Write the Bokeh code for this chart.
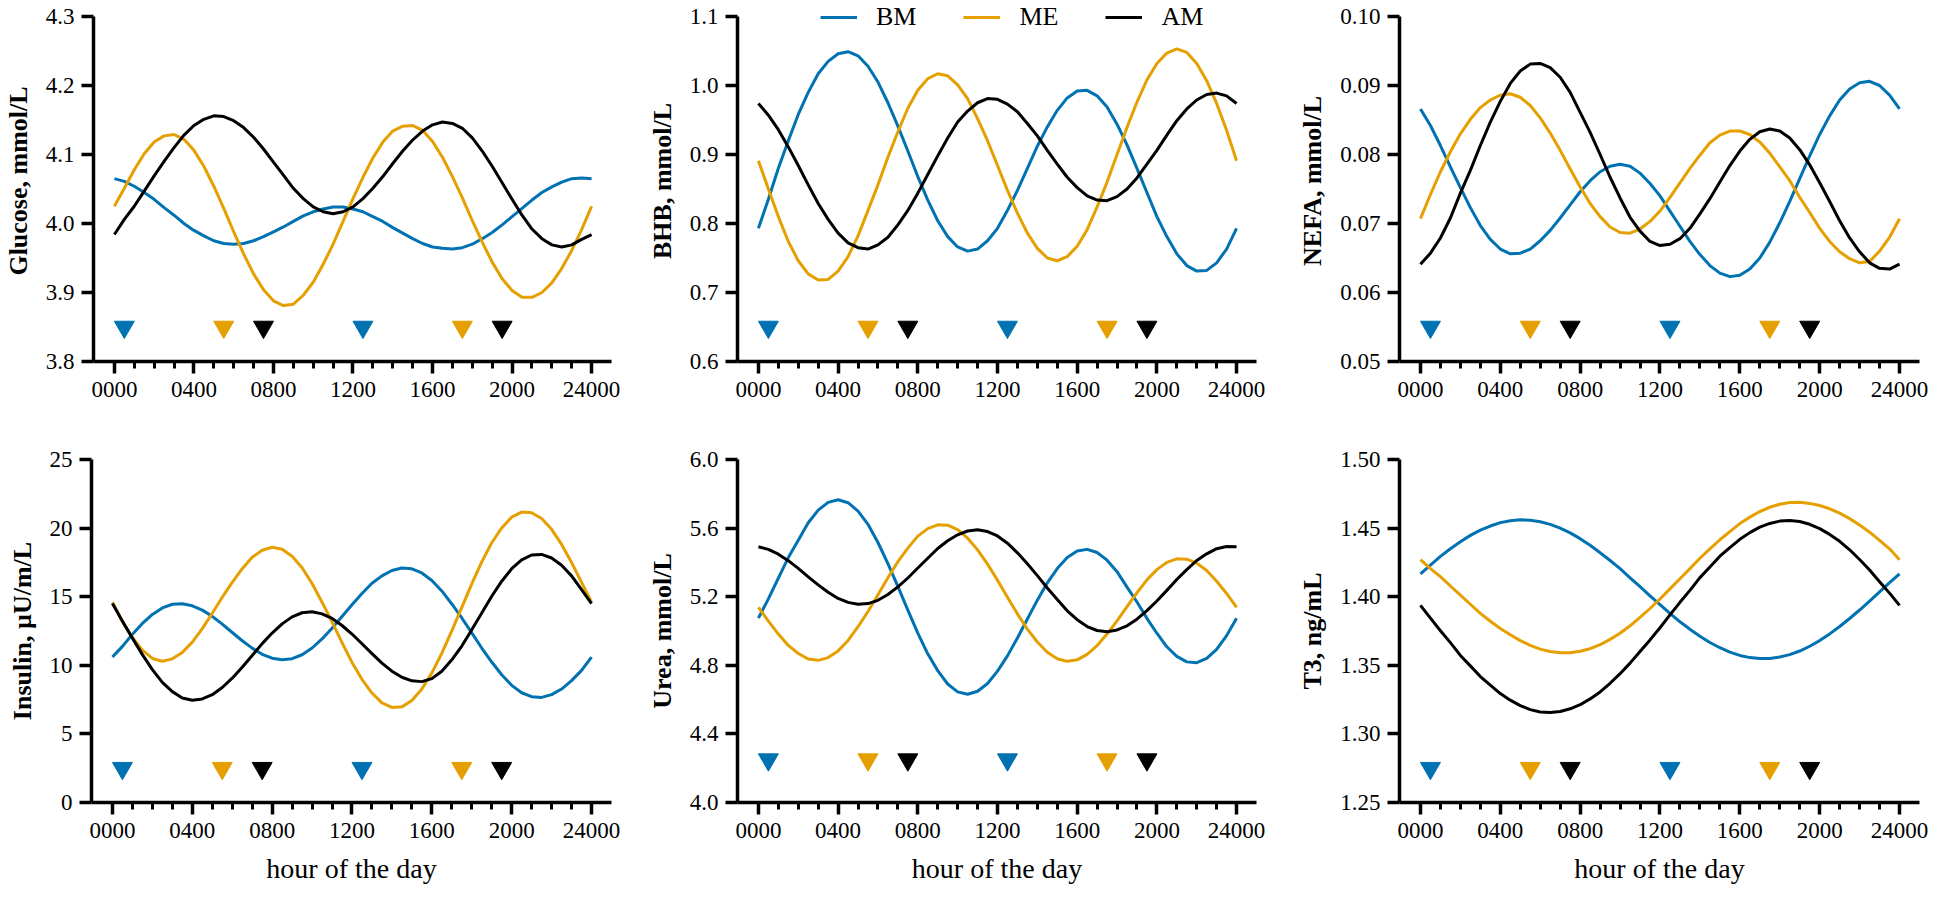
from bokeh.plotting import figure
from bokeh.models import FixedTicker, Legend, LegendItem, PrintfTickFormatter, Range1d
from bokeh.layouts import column, row
from bokeh.embed import file_html
from bokeh.resources import INLINE

# ---------------- data (every half hour) ----------------
hours = [0, 0.5, 1, 1.5, 2, 2.5, 3, 3.5, 4, 4.5, 5, 5.5, 6, 6.5, 7, 7.5, 8, 8.5, 9, 9.5, 10, 10.5,
         11, 11.5, 12, 12.5, 13, 13.5, 14, 14.5, 15, 15.5, 16, 16.5, 17, 17.5, 18, 18.5, 19, 19.5,
         20, 20.5, 21, 21.5, 22, 22.5, 23, 23.5, 24]
minor_hours = [0, 1, 2, 3, 4, 5, 6, 7, 8, 9, 10, 11, 12, 13, 14, 15, 16, 17, 18, 19, 20, 21, 22, 23, 24]
x_major = [0, 4, 8, 12, 16, 20, 24]
x_tick_labels = ["0000", "0400", "0800", "1200", "1600", "2000", "24000"]
groups = ["BM", "ME", "AM"]

marker_hours = [0.5, 5.5, 7.5, 12.5, 17.5, 19.5]
marker_groups = ["BM", "ME", "AM", "BM", "ME", "AM"]

glucose_bm = [4.065, 4.061, 4.054, 4.045, 4.035, 4.023, 4.012, 4.000, 3.990, 3.982, 3.975, 3.971, 3.970,
              3.971, 3.975, 3.981, 3.988, 3.995, 4.003, 4.011, 4.017, 4.021, 4.024, 4.024, 4.021, 4.017,
              4.010, 4.003, 3.994, 3.986, 3.978, 3.971, 3.966, 3.964, 3.963, 3.965, 3.970, 3.978, 3.987,
              3.998, 4.010, 4.022, 4.034, 4.045, 4.053, 4.060, 4.065, 4.066, 4.065]
glucose_me = [4.025, 4.051, 4.078, 4.101, 4.118, 4.127, 4.129, 4.122, 4.106, 4.083, 4.054, 4.022, 3.988,
              3.956, 3.927, 3.904, 3.888, 3.881, 3.883, 3.896, 3.915, 3.941, 3.970, 4.003, 4.036, 4.067,
              4.095, 4.118, 4.134, 4.141, 4.142, 4.135, 4.119, 4.096, 4.068, 4.037, 4.004, 3.973, 3.944,
              3.920, 3.903, 3.893, 3.893, 3.900, 3.914, 3.935, 3.961, 3.991, 4.025]
glucose_am = [3.984, 4.006, 4.025, 4.047, 4.069, 4.090, 4.110, 4.128, 4.142, 4.151, 4.156, 4.155, 4.149,
              4.139, 4.125, 4.108, 4.089, 4.070, 4.051, 4.036, 4.024, 4.017, 4.014, 4.017, 4.024, 4.036,
              4.051, 4.068, 4.087, 4.105, 4.121, 4.134, 4.143, 4.147, 4.145, 4.138, 4.124, 4.105, 4.083,
              4.059, 4.035, 4.012, 3.992, 3.978, 3.969, 3.966, 3.969, 3.977, 3.984]

bhb_bm = [0.793, 0.835, 0.880, 0.920, 0.958, 0.990, 1.017, 1.035, 1.046, 1.049, 1.043, 1.028, 1.005,
          0.975, 0.941, 0.905, 0.868, 0.834, 0.804, 0.781, 0.766, 0.760, 0.763, 0.775, 0.793, 0.819,
          0.848, 0.880, 0.912, 0.940, 0.964, 0.982, 0.992, 0.993, 0.985, 0.969, 0.944, 0.914, 0.880,
          0.845, 0.810, 0.781, 0.756, 0.739, 0.731, 0.732, 0.743, 0.763, 0.793]
bhb_me = [0.891, 0.850, 0.810, 0.774, 0.746, 0.727, 0.718, 0.719, 0.731, 0.752, 0.782, 0.819, 0.856,
          0.896, 0.933, 0.967, 0.993, 1.010, 1.017, 1.014, 1.001, 0.981, 0.952, 0.920, 0.884, 0.848,
          0.815, 0.786, 0.764, 0.750, 0.746, 0.752, 0.767, 0.791, 0.824, 0.860, 0.900, 0.939, 0.976,
          1.008, 1.032, 1.047, 1.053, 1.048, 1.032, 1.007, 0.974, 0.935, 0.891]
bhb_am = [0.974, 0.957, 0.936, 0.911, 0.884, 0.856, 0.829, 0.806, 0.786, 0.772, 0.765, 0.763, 0.769,
          0.780, 0.798, 0.819, 0.844, 0.871, 0.898, 0.924, 0.947, 0.963, 0.975, 0.981, 0.980, 0.973,
          0.962, 0.945, 0.927, 0.906, 0.886, 0.867, 0.852, 0.840, 0.834, 0.833, 0.839, 0.850, 0.866,
          0.886, 0.906, 0.928, 0.949, 0.966, 0.979, 0.987, 0.989, 0.985, 0.974]

nefa_bm = [0.0866, 0.0842, 0.0813, 0.0782, 0.0752, 0.0723, 0.0697, 0.0677, 0.0663, 0.0656, 0.0657, 0.0663,
           0.0675, 0.0690, 0.0708, 0.0727, 0.0746, 0.0762, 0.0775, 0.0783, 0.0786, 0.0783, 0.0773, 0.0758,
           0.0740, 0.0718, 0.0696, 0.0674, 0.0655, 0.0639, 0.0628, 0.0623, 0.0625, 0.0634, 0.0650, 0.0673,
           0.0701, 0.0732, 0.0765, 0.0798, 0.0829, 0.0856, 0.0879, 0.0895, 0.0904, 0.0906, 0.0900, 0.0886,
           0.0866]
nefa_me = [0.0707, 0.0742, 0.0775, 0.0804, 0.0830, 0.0851, 0.0868, 0.0879, 0.0886, 0.0888, 0.0883, 0.0871,
           0.0853, 0.0831, 0.0806, 0.0779, 0.0753, 0.0729, 0.0710, 0.0695, 0.0687, 0.0686, 0.0692, 0.0703,
           0.0718, 0.0738, 0.0759, 0.0780, 0.0799, 0.0817, 0.0828, 0.0834, 0.0834, 0.0829, 0.0818, 0.0802,
           0.0782, 0.0762, 0.0738, 0.0716, 0.0693, 0.0674, 0.0659, 0.0649, 0.0643, 0.0645, 0.0660, 0.0680,
           0.0707]
nefa_am = [0.0641, 0.0657, 0.0679, 0.0708, 0.0744, 0.0777, 0.0813, 0.0847, 0.0877, 0.0903, 0.0921, 0.0931,
           0.0932, 0.0926, 0.0912, 0.0890, 0.0861, 0.0832, 0.0800, 0.0767, 0.0737, 0.0709, 0.0689, 0.0674,
           0.0668, 0.0670, 0.0678, 0.0693, 0.0714, 0.0736, 0.0760, 0.0784, 0.0805, 0.0822, 0.0833, 0.0837,
           0.0834, 0.0824, 0.0807, 0.0785, 0.0759, 0.0732, 0.0704, 0.0679, 0.0659, 0.0643, 0.0635, 0.0634,
           0.0641]

insulin_bm = [10.6, 11.38, 12.26, 13.05, 13.71, 14.18, 14.45, 14.49, 14.34, 14.02, 13.57, 13.00, 12.39,
              11.79, 11.25, 10.80, 10.52, 10.40, 10.48, 10.77, 11.26, 11.92, 12.70, 13.55, 14.41, 15.23,
              15.98, 16.52, 16.91, 17.09, 17.03, 16.73, 16.18, 15.42, 14.47, 13.45, 12.36, 11.26, 10.24,
              9.31, 8.54, 8.00, 7.71, 7.66, 7.86, 8.27, 8.88, 9.63, 10.6]
insulin_me = [14.6, 13.20, 12.01, 11.10, 10.50, 10.30, 10.47, 10.94, 11.69, 12.67, 13.79, 14.96, 16.05,
              17.04, 17.87, 18.39, 18.60, 18.46, 17.95, 17.11, 15.96, 14.60, 13.16, 11.65, 10.21, 8.98,
              7.98, 7.26, 6.93, 6.97, 7.43, 8.27, 9.45, 10.88, 12.51, 14.22, 15.94, 17.54, 18.93,
              20.01, 20.80, 21.17, 21.12, 20.70, 19.91, 18.81, 17.49, 16.04, 14.6]
insulin_am = [14.5, 13.21, 11.98, 10.78, 9.69, 8.76, 8.08, 7.62, 7.45, 7.55, 7.86, 8.38, 9.06,
              9.86, 10.71, 11.58, 12.35, 13.02, 13.53, 13.83, 13.90, 13.75, 13.42, 12.90, 12.28, 11.57,
              10.85, 10.16, 9.57, 9.13, 8.87, 8.81, 9.03, 9.57, 10.40, 11.40, 12.59, 13.81, 15.03,
              16.13, 17.04, 17.69, 18.04, 18.08, 17.82, 17.29, 16.52, 15.52, 14.5]

urea_bm = [5.075, 5.187, 5.308, 5.428, 5.529, 5.631, 5.705, 5.750, 5.765, 5.748, 5.699, 5.622, 5.516,
           5.393, 5.260, 5.122, 4.988, 4.867, 4.769, 4.691, 4.645, 4.631, 4.649, 4.694, 4.766, 4.855,
           4.959, 5.070, 5.180, 5.281, 5.364, 5.429, 5.467, 5.476, 5.458, 5.413, 5.346, 5.256, 5.169,
           5.074, 4.987, 4.908, 4.852, 4.820, 4.815, 4.840, 4.893, 4.973, 5.075]
urea_me = [5.138, 5.058, 4.982, 4.916, 4.869, 4.837, 4.829, 4.845, 4.884, 4.945, 5.025, 5.114, 5.212,
           5.310, 5.404, 5.483, 5.553, 5.597, 5.619, 5.617, 5.591, 5.541, 5.473, 5.390, 5.296, 5.197,
           5.100, 5.011, 4.936, 4.876, 4.838, 4.823, 4.832, 4.864, 4.915, 4.982, 5.059, 5.142, 5.223,
           5.298, 5.358, 5.400, 5.421, 5.419, 5.396, 5.353, 5.290, 5.219, 5.138]
urea_am = [5.491, 5.476, 5.448, 5.410, 5.365, 5.316, 5.269, 5.226, 5.190, 5.167, 5.156, 5.160, 5.179,
           5.213, 5.257, 5.309, 5.367, 5.424, 5.481, 5.526, 5.561, 5.583, 5.590, 5.580, 5.554, 5.512,
           5.456, 5.392, 5.323, 5.251, 5.184, 5.118, 5.066, 5.026, 5.003, 4.996, 5.006, 5.030, 5.069,
           5.119, 5.175, 5.237, 5.300, 5.358, 5.411, 5.450, 5.480, 5.493, 5.491]

t3_bm = [1.4167, 1.4231, 1.4294, 1.4349, 1.4400, 1.4447, 1.4485, 1.4515, 1.4540, 1.4554, 1.4560, 1.4557,
         1.4546, 1.4527, 1.4500, 1.4465, 1.4423, 1.4375, 1.4320, 1.4264, 1.4204, 1.4138, 1.4073, 1.4006,
         1.3942, 1.3879, 1.3817, 1.3763, 1.3712, 1.3666, 1.3628, 1.3596, 1.3572, 1.3556, 1.3549, 1.3550,
         1.3560, 1.3578, 1.3604, 1.3639, 1.3680, 1.3729, 1.3783, 1.3841, 1.3903, 1.3968, 1.4035, 1.4102,
         1.4167]
t3_me = [1.4270, 1.4205, 1.4146, 1.4078, 1.4011, 1.3945, 1.3878, 1.3821, 1.3768, 1.3723, 1.3680, 1.3645,
         1.3618, 1.3601, 1.3592, 1.3592, 1.3602, 1.3621, 1.3650, 1.3689, 1.3734, 1.3788, 1.3849, 1.3914,
         1.3983, 1.4057, 1.4131, 1.4205, 1.4280, 1.4349, 1.4415, 1.4474, 1.4533, 1.4580, 1.4621, 1.4652,
         1.4674, 1.4686, 1.4688, 1.4680, 1.4665, 1.4641, 1.4609, 1.4569, 1.4522, 1.4470, 1.4410, 1.4349,
         1.4270]
t3_am = [1.3937, 1.3844, 1.3752, 1.3665, 1.3572, 1.3496, 1.3418, 1.3355, 1.3294, 1.3246, 1.3206, 1.3177,
         1.3160, 1.3156, 1.3163, 1.3183, 1.3213, 1.3255, 1.3306, 1.3369, 1.3439, 1.3516, 1.3601, 1.3685,
         1.3774, 1.3867, 1.3959, 1.4046, 1.4139, 1.4216, 1.4295, 1.4358, 1.4418, 1.4467, 1.4507, 1.4534,
         1.4551, 1.4555, 1.4548, 1.4528, 1.4496, 1.4454, 1.4404, 1.4342, 1.4271, 1.4194, 1.4109, 1.4026,
         1.3937]

glucose_ticks = [3.8, 3.9, 4.0, 4.1, 4.2, 4.3]
bhb_ticks = [0.6, 0.7, 0.8, 0.9, 1.0, 1.1]
nefa_ticks = [0.05, 0.06, 0.07, 0.08, 0.09, 0.10]
insulin_ticks = [0, 5, 10, 15, 20, 25]
urea_ticks = [4.0, 4.4, 4.8, 5.2, 5.6, 6.0]
t3_ticks = [1.25, 1.30, 1.35, 1.40, 1.45, 1.50]

# ---------------- styling ----------------
COLORS = {"BM": "#0072B2", "ME": "#E69F00", "AM": "#000000"}
FONT = "Liberation Serif"

panels = [
    dict(label="Glucose, mmol/L", series=[glucose_bm, glucose_me, glucose_am], ticks=glucose_ticks, fmt="%.1f", my=3.85),
    dict(label="BHB, mmol/L", series=[bhb_bm, bhb_me, bhb_am], ticks=bhb_ticks, fmt="%.1f", my=0.65),
    dict(label="NEFA, mmol/L", series=[nefa_bm, nefa_me, nefa_am], ticks=nefa_ticks, fmt="%.2f", my=0.055),
    dict(label="Insulin, µU/m/L", series=[insulin_bm, insulin_me, insulin_am], ticks=insulin_ticks, fmt="%d", my=2.5),
    dict(label="Urea, mmol/L", series=[urea_bm, urea_me, urea_am], ticks=urea_ticks, fmt="%.1f", my=4.25),
    dict(label="T3, ng/mL", series=[t3_bm, t3_me, t3_am], ticks=t3_ticks, fmt="%.2f", my=1.275),
]
for spec in panels:
    for s in spec["series"]:
        assert len(s) == len(hours), (spec["label"], len(s))

col_w = [644, 644, 645]
col_left = [91, 92, 111]
row_h = [424, 467]
row_top = [0, 35]        # top row: frame reaches canvas top (room for the legend)
row_pad_px = [16, 0]     # blank pixels above the top tick inside the frame
row_bottom = [63, 89]
FRAME_W = 520

figs = []
for i, spec in enumerate(panels):
    r, c = divmod(i, 3)
    ymin, ymax = spec["ticks"][0], spec["ticks"][-1]
    frame_h = row_h[r] - row_top[r] - row_bottom[r]
    axis_h = frame_h - row_pad_px[r]
    yend = ymax + row_pad_px[r] * (ymax - ymin) / axis_h
    p = figure(width=col_w[c], height=row_h[r],
               x_range=Range1d(-1.05, 25.0),
               y_range=Range1d(ymin, yend),
               output_backend="svg", toolbar_location=None,
               min_border_left=col_left[c], min_border_right=col_w[c] - col_left[c] - FRAME_W,
               min_border_top=row_top[r], min_border_bottom=row_bottom[r])
    p.outline_line_color = None
    p.xgrid.visible = False
    p.ygrid.visible = False
    p.background_fill_color = "white"

    renderers = []
    for g, vals in zip(groups, spec["series"]):
        rr = p.line(hours, vals, line_color=COLORS[g], line_width=3, line_join="round")
        renderers.append(rr)

    p.scatter(marker_hours, [spec["my"]] * len(marker_hours), marker="inverted_triangle", size=20,
              fill_color=[COLORS[g] for g in marker_groups], line_color=[COLORS[g] for g in marker_groups])

    for ax in (p.xaxis[0], p.yaxis[0]):
        ax.axis_line_width = 3.5
        ax.axis_line_color = "black"
        ax.major_tick_line_width = 3.5
        ax.major_tick_line_color = "black"
        ax.major_tick_in = 0
        ax.major_tick_out = 12
        ax.minor_tick_in = 0
        ax.minor_tick_out = 7
        ax.minor_tick_line_width = 3
        ax.minor_tick_line_color = "black"
        ax.major_label_text_font = FONT
        ax.major_label_text_font_size = "23px"
        ax.major_label_text_color = "black"
        ax.axis_label_text_font = FONT
        ax.axis_label_text_color = "black"

    xa = p.xaxis[0]
    xa.ticker = FixedTicker(ticks=x_major, minor_ticks=minor_hours)
    xa.major_label_overrides = {k: v for k, v in zip(x_major, x_tick_labels)}
    xa.major_label_standoff = 8
    if r == 1:
        xa.axis_label = "hour of the day"
        xa.axis_label_text_font_size = "28px"
        xa.axis_label_text_font_style = "normal"
        xa.axis_label_standoff = 12

    ya = p.yaxis[0]
    ya.ticker = FixedTicker(ticks=spec["ticks"])
    ya.formatter = PrintfTickFormatter(format=spec["fmt"])
    ya.bounds = (ymin, ymax)
    ya.minor_tick_line_color = None
    ya.major_label_standoff = 7
    ya.axis_label = spec["label"]
    ya.axis_label_text_font_size = "26px"
    ya.axis_label_text_font_style = "bold"
    ya.axis_label_standoff = 10

    if i == 1:
        legend = Legend(items=[LegendItem(label=g, renderers=[rr]) for g, rr in zip(groups, renderers)],
                        orientation="horizontal", location=(83, axis_h - 16),
                        border_line_color=None, background_fill_alpha=0,
                        padding=0, margin=0, spacing=47, glyph_width=37, glyph_height=20,
                        label_standoff=19, label_height=20,
                        label_text_font=FONT, label_text_font_size="26px", label_text_color="black")
        p.add_layout(legend)
    figs.append(p)

layout = column(row(*figs[:3]), row(*figs[3:]))
open("out.html", "w").write(file_html(layout, INLINE))
